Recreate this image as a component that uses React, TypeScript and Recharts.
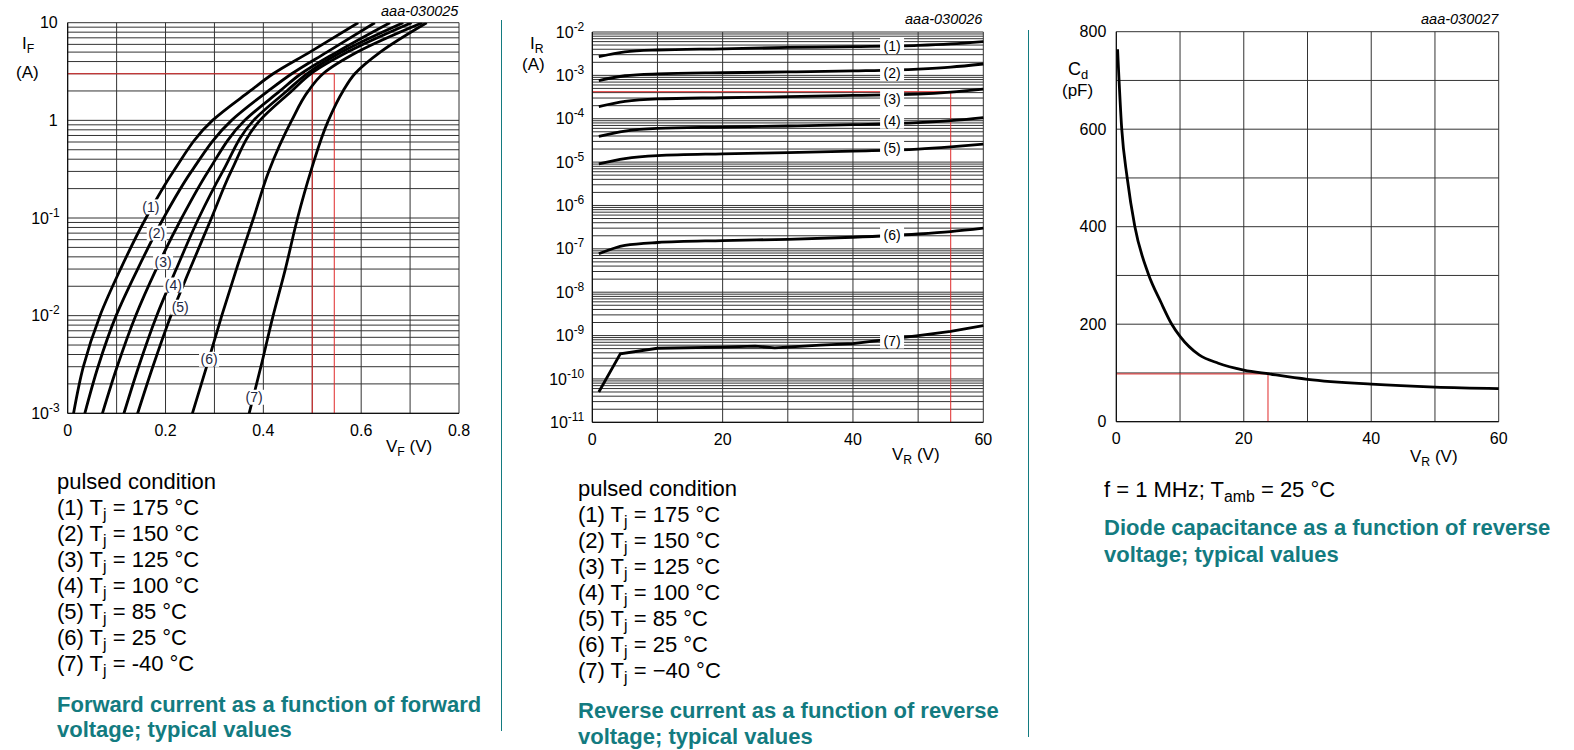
import React from 'react'
import { LineChart, Line, XAxis, YAxis, CartesianGrid, ReferenceLine, ReferenceDot } from 'recharts'

const FONT = '"Liberation Sans", Arial, Helvetica, sans-serif'
const TEAL = '#137b80'
const RED = '#e02a2a'
const GRID = '#333'

// --- forward current I_F vs V_F (curves (1)..(7)), V_F read at each I_F level
const ifLevels = [0.001, 0.003, 0.01, 0.03, 0.1, 0.3, 1, 2, 3, 5, 10]
const vfT175 = [0.012, 0.032, 0.066, 0.108, 0.16, 0.216, 0.296, 0.373, 0.42, 0.495, 0.594]
const vfT150 = [0.035, 0.062, 0.099, 0.143, 0.196, 0.253, 0.335, 0.41, 0.458, 0.53, 0.628]
const vfT125 = [0.071, 0.101, 0.139, 0.181, 0.233, 0.287, 0.362, 0.434, 0.477, 0.55, 0.659]
const vfT100 = [0.115, 0.145, 0.182, 0.222, 0.268, 0.317, 0.38, 0.448, 0.489, 0.56, 0.686]
const vfT85 = [0.143, 0.174, 0.211, 0.25, 0.294, 0.334, 0.393, 0.458, 0.497, 0.572, 0.703]
const vfT25 = [0.255, 0.284, 0.315, 0.345, 0.38, 0.411, 0.458, 0.492, 0.522, 0.592, 0.725]
const vfTm40 = [0.371, 0.395, 0.42, 0.445, 0.47, 0.497, 0.533, 0.563, 0.587, 0.639, 0.734]
const fwdLabelV = [0.17, 0.182, 0.195, 0.216, 0.23, 0.289, 0.381]
const fwdLabelI = [0.13, 0.07, 0.0357, 0.0206, 0.0122, 0.00357, 0.00146]
const fwdXTicks = [0, 0.1, 0.2, 0.3, 0.4, 0.5, 0.6, 0.7, 0.8]
const fwdXLabels = [0, 0.2, 0.4, 0.6, 0.8]

// --- reverse current I_R vs V_R
const vrLevels = [1, 5, 10, 20, 30, 40, 50, 55, 60]
const irT175 = [2.7e-3, 3.5e-3, 3.85e-3, 4.1e-3, 4.4e-3, 4.6e-3, 4.9e-3, 5.3e-3, 6.0e-3]
const irT150 = [7.6e-4, 9.8e-4, 1.08e-3, 1.15e-3, 1.2e-3, 1.27e-3, 1.4e-3, 1.55e-3, 1.83e-3]
const irT125 = [1.9e-4, 2.5e-4, 2.86e-4, 3.05e-4, 3.23e-4, 3.45e-4, 3.7e-4, 4.1e-4, 4.8e-4]
const irT100 = [3.9e-5, 5.2e-5, 6.0e-5, 6.4e-5, 6.8e-5, 7.3e-5, 8.1e-5, 9.0e-5, 1.06e-4]
const irT85 = [9.1e-6, 1.2e-5, 1.41e-5, 1.55e-5, 1.65e-5, 1.8e-5, 2.0e-5, 2.25e-5, 2.6e-5]
const irT25 = [7.7e-8, 1.2e-7, 1.4e-7, 1.55e-7, 1.66e-7, 1.85e-7, 2.2e-7, 2.5e-7, 3.0e-7]
const vrLevelsM40 = [1, 4.3, 10, 20, 25, 28, 35, 40, 50, 55, 60]
const irTm40 = [5e-11, 3.8e-10, 5.1e-10, 5.4e-10, 5.7e-10, 5.2e-10, 6e-10, 6.5e-10, 1.0e-9, 1.25e-9, 1.7e-9]
const revLabelI = [4.8e-3, 1.15e-3, 2.86e-4, 9.0e-5, 2.1e-5, 2.1e-7, 7.7e-10]
const revLabelV = 46
const revXTicks = [0, 10, 20, 30, 40, 50, 60]
const revXLabels = [0, 20, 40, 60]

// --- diode capacitance C_d vs V_R
const cdVr = [0.2, 0.85, 1.7, 2.9, 5, 7, 8.7, 10, 13, 16, 20, 24, 30, 40, 50, 60]
const cdPf = [764, 601, 501, 401, 304, 245, 200, 175, 137, 120, 106, 98, 87, 77, 71, 68]
const capYTicks = [0, 100, 200, 300, 400, 500, 600, 700, 800]
const capYLabels = [0, 200, 400, 600, 800]

const curveTags = ['(1)', '(2)', '(3)', '(4)', '(5)', '(6)', '(7)']

const logTicks = (lo: number, hi: number) => {
  const out: number[] = []
  for (let d = lo; d <= hi; d++) {
    for (let k = 1; k <= 9; k++) {
      if (d === hi && k > 1) break
      out.push(Number((k * 10 ** d).toPrecision(3)))
    }
  }
  return out
}
const isDecade = (v: number) => Math.abs(Math.log10(v) - Math.round(Math.log10(v))) < 1e-6
const near = (list: number[], v: number) => list.some(l => Math.abs(l - v) < 1e-6)

const LogTick = (p: any, plainPositive: boolean) => {
  const v = p.payload.value
  if (!isDecade(v)) return <g />
  const e = Math.round(Math.log10(v))
  if (plainPositive && e >= 0) {
    return <text x={p.x - 10} y={p.y} dy="0.35em" textAnchor="end" fontSize={16} fontFamily={FONT} fill="#000">{String(v)}</text>
  }
  return (
    <text x={p.x - 8} y={p.y} dy="0.35em" textAnchor="end" fontSize={16} fontFamily={FONT} fill="#000">
      <tspan>10</tspan>
      <tspan dy={-7} fontSize={12}>{String(e)}</tspan>
    </text>
  )
}

const LinTickY = (p: any, labels: number[]) =>
  near(labels, p.payload.value)
    ? <text x={p.x - 10} y={p.y} dy="0.35em" textAnchor="end" fontSize={16} fontFamily={FONT} fill="#000">{String(p.payload.value)}</text>
    : <g />

const TickX = (p: any, labels: number[]) =>
  near(labels, p.payload.value)
    ? <text x={p.x} y={p.y + 17} dy="0.35em" textAnchor="middle" fontSize={16} fontFamily={FONT} fill="#000">{String(p.payload.value)}</text>
    : <g />

const tagShape = (text: string, w: number, h: number, color: string) => (p: any) => (
  <g>
    <rect x={p.cx - w / 2} y={p.cy - h / 2} width={w} height={h} fill="#fff" />
    <text x={p.cx} y={p.cy} dy="0.36em" textAnchor="middle" fontSize={14} fontFamily={FONT} fill={color}>{text}</text>
  </g>
)

const Sub = ({ children }: { children: React.ReactNode }) => (
  <span style={{ fontSize: '0.72em', position: 'relative', top: '0.3em', lineHeight: 0 }}>{children}</span>
)

const abs = (left: number, top: number, extra: React.CSSProperties = {}): React.CSSProperties => ({
  position: 'absolute', left, top, whiteSpace: 'nowrap', fontFamily: FONT, color: '#000', ...extra,
})

const fwdData = [vfT175, vfT150, vfT125, vfT100, vfT85, vfT25, vfTm40].map(s => ifLevels.map((i, k) => ({ v: s[k], i })))
const revData = [irT175, irT150, irT125, irT100, irT85, irT25].map(s => vrLevels.map((v, k) => ({ v, i: s[k] })))
  .concat([vrLevelsM40.map((v, k) => ({ v, i: irTm40[k] }))])
const capData = cdVr.map((v, k) => ({ v, c: cdPf[k] }))

function ForwardChart() {
  return (
    <LineChart width={480} height={470} margin={{ top: 22.7, right: 21, bottom: 26.7, left: 17.7 }}>
      <CartesianGrid stroke={GRID} strokeWidth={1} />
      <XAxis dataKey="v" type="number" domain={[0, 0.8]} ticks={fwdXTicks} interval={0} height={30}
        tickSize={0} tickMargin={0} tickLine={false} axisLine={{ stroke: '#000' }} tick={(p: any) => TickX(p, fwdXLabels)} />
      <YAxis type="number" scale="log" domain={[0.001, 10]} allowDataOverflow ticks={logTicks(-3, 1)} interval={0} width={50}
        tickSize={0} tickMargin={0} tickLine={false} axisLine={{ stroke: '#000' }} tick={(p: any) => LogTick(p, true)} />
      <ReferenceLine segment={[{ x: 0, y: 3 }, { x: 0.545, y: 3 }]} stroke={RED} strokeWidth={1} />
      <ReferenceLine segment={[{ x: 0.5, y: 3 }, { x: 0.5, y: 0.001 }]} stroke={RED} strokeWidth={1} />
      <ReferenceLine segment={[{ x: 0.545, y: 3 }, { x: 0.545, y: 0.001 }]} stroke={RED} strokeWidth={1} />
      {fwdData.map((d, k) => (
        <Line key={k} data={d} dataKey="i" type="monotoneY" stroke="#000" strokeWidth={2.8} dot={false} activeDot={false} isAnimationActive={false} />
      ))}
      {curveTags.map((t, k) => (
        <ReferenceDot key={t} x={fwdLabelV[k]} y={fwdLabelI[k]} r={0} shape={tagShape(t, 20, 15, '#1d2742')} />
      ))}
    </LineChart>
  )
}

function ReverseChart() {
  return (
    <LineChart width={480} height={480} margin={{ top: 32, right: 16.7, bottom: 27.7, left: 22.3 }}>
      <CartesianGrid stroke={GRID} strokeWidth={1} />
      <XAxis dataKey="v" type="number" domain={[0, 60]} ticks={revXTicks} interval={0} height={30}
        tickSize={0} tickMargin={0} tickLine={false} axisLine={{ stroke: '#000' }} tick={(p: any) => TickX(p, revXLabels)} />
      <YAxis type="number" scale="log" domain={[1e-11, 1e-2]} allowDataOverflow ticks={logTicks(-11, -2)} interval={0} width={50}
        tickSize={0} tickMargin={0} tickLine={false} axisLine={{ stroke: '#000' }} tick={(p: any) => LogTick(p, false)} />
      <ReferenceLine segment={[{ x: 0, y: 4.2e-4 }, { x: 55, y: 4.2e-4 }]} stroke={RED} strokeWidth={1} />
      <ReferenceLine segment={[{ x: 55, y: 4.2e-4 }, { x: 55, y: 1e-11 }]} stroke={RED} strokeWidth={1} />
      {revData.map((d, k) => (
        <Line key={k} data={d} dataKey="i" type={k === 6 ? 'linear' : 'monotone'} stroke="#000" strokeWidth={2.8}
          dot={false} activeDot={false} isAnimationActive={false} />
      ))}
      {curveTags.map((t, k) => (
        <ReferenceDot key={t} x={revLabelV} y={revLabelI[k]} r={0} shape={tagShape(t, 24, 16, '#000')} />
      ))}
    </LineChart>
  )
}

function CapChart() {
  return (
    <LineChart width={534} height={480} data={capData} margin={{ top: 31.7, right: 75.3, bottom: 28.3, left: 26.3 }}>
      <CartesianGrid stroke={GRID} strokeWidth={1} />
      <XAxis dataKey="v" type="number" domain={[0, 60]} ticks={revXTicks} interval={0} height={30}
        tickSize={0} tickMargin={0} tickLine={false} axisLine={{ stroke: '#000' }} tick={(p: any) => TickX(p, revXLabels)} />
      <YAxis type="number" domain={[0, 800]} ticks={capYTicks} interval={0} width={50}
        tickSize={0} tickMargin={0} tickLine={false} axisLine={{ stroke: '#000' }} tick={(p: any) => LinTickY(p, capYLabels)} />
      <ReferenceLine segment={[{ x: 0, y: 98 }, { x: 23.8, y: 98 }]} stroke={RED} strokeWidth={1} />
      <ReferenceLine segment={[{ x: 23.8, y: 98 }, { x: 23.8, y: 0 }]} stroke={RED} strokeWidth={1} />
      <Line dataKey="c" type="monotone" stroke="#000" strokeWidth={2.8} dot={false} activeDot={false} isAnimationActive={false} />
    </LineChart>
  )
}

const legendRows = [['(1)', '175'], ['(2)', '150'], ['(3)', '125'], ['(4)', '100'], ['(5)', '85'], ['(6)', '25']]

function Legend({ left, top, minus }: { left: number; top: number; minus: string }) {
  return (
    <div style={abs(left, top, { fontSize: 22, lineHeight: '26px' })}>
      <div>pulsed condition</div>
      {legendRows.map(([n, t]) => (
        <div key={n}>{n} T<Sub>j</Sub> = {t} °C</div>
      ))}
      <div>(7) T<Sub>j</Sub> = {minus}40 °C</div>
    </div>
  )
}

const titleStyle = (lh: number): React.CSSProperties => ({ fontSize: 22, lineHeight: `${lh}px`, fontWeight: 700, color: TEAL })

export default function App() {
  return (
    <div style={{ position: 'absolute', left: 0, top: 0, width: 1574, height: 750, background: '#fff', overflow: 'hidden' }}>
      <div style={abs(0, 0)}><ForwardChart /></div>
      <div style={abs(520, 0)}><ReverseChart /></div>
      <div style={abs(1040, 0)}><CapChart /></div>

      {/* chart codes */}
      <div style={abs(381, 3, { fontSize: 14.5, fontStyle: 'italic' })}>aaa-030025</div>
      <div style={abs(905, 11, { fontSize: 14.5, fontStyle: 'italic' })}>aaa-030026</div>
      <div style={abs(1421, 11, { fontSize: 14.5, fontStyle: 'italic' })}>aaa-030027</div>

      {/* axis titles */}
      <div style={abs(22, 34, { fontSize: 17, lineHeight: '20px' })}>I<Sub>F</Sub></div>
      <div style={abs(16, 63, { fontSize: 17, lineHeight: '20px' })}>(A)</div>
      <div style={abs(386, 437, { fontSize: 17, lineHeight: '20px' })}>V<Sub>F</Sub> (V)</div>

      <div style={abs(530, 34, { fontSize: 17, lineHeight: '20px' })}>I<Sub>R</Sub></div>
      <div style={abs(522, 55, { fontSize: 17, lineHeight: '20px' })}>(A)</div>
      <div style={abs(892, 445, { fontSize: 17, lineHeight: '20px' })}>V<Sub>R</Sub> (V)</div>

      <div style={abs(1068, 59, { fontSize: 18, lineHeight: '20px' })}>C<Sub>d</Sub></div>
      <div style={abs(1062, 81, { fontSize: 17, lineHeight: '20px' })}>(pF)</div>
      <div style={abs(1410, 447, { fontSize: 17, lineHeight: '20px' })}>V<Sub>R</Sub> (V)</div>

      {/* separators */}
      <div style={{ position: 'absolute', left: 501, top: 20, width: 1, height: 711, background: TEAL }} />
      <div style={{ position: 'absolute', left: 1028, top: 30, width: 1, height: 707, background: TEAL }} />

      {/* captions */}
      <Legend left={57} top={469} minus="-" />
      <div style={abs(57, 692, titleStyle(25))}>
        <div>Forward current as a function of forward</div>
        <div>voltage; typical values</div>
      </div>

      <Legend left={578} top={476} minus={'\u2212'} />
      <div style={abs(578, 698, titleStyle(26))}>
        <div>Reverse current as a function of reverse</div>
        <div>voltage; typical values</div>
      </div>

      <div style={abs(1104, 477, { fontSize: 22, lineHeight: '26px' })}>
        f = 1 MHz; T<Sub>amb</Sub> = 25 °C
      </div>
      <div style={abs(1104, 515, titleStyle(26.7))}>
        <div>Diode capacitance as a function of reverse</div>
        <div>voltage; typical values</div>
      </div>
    </div>
  )
}
